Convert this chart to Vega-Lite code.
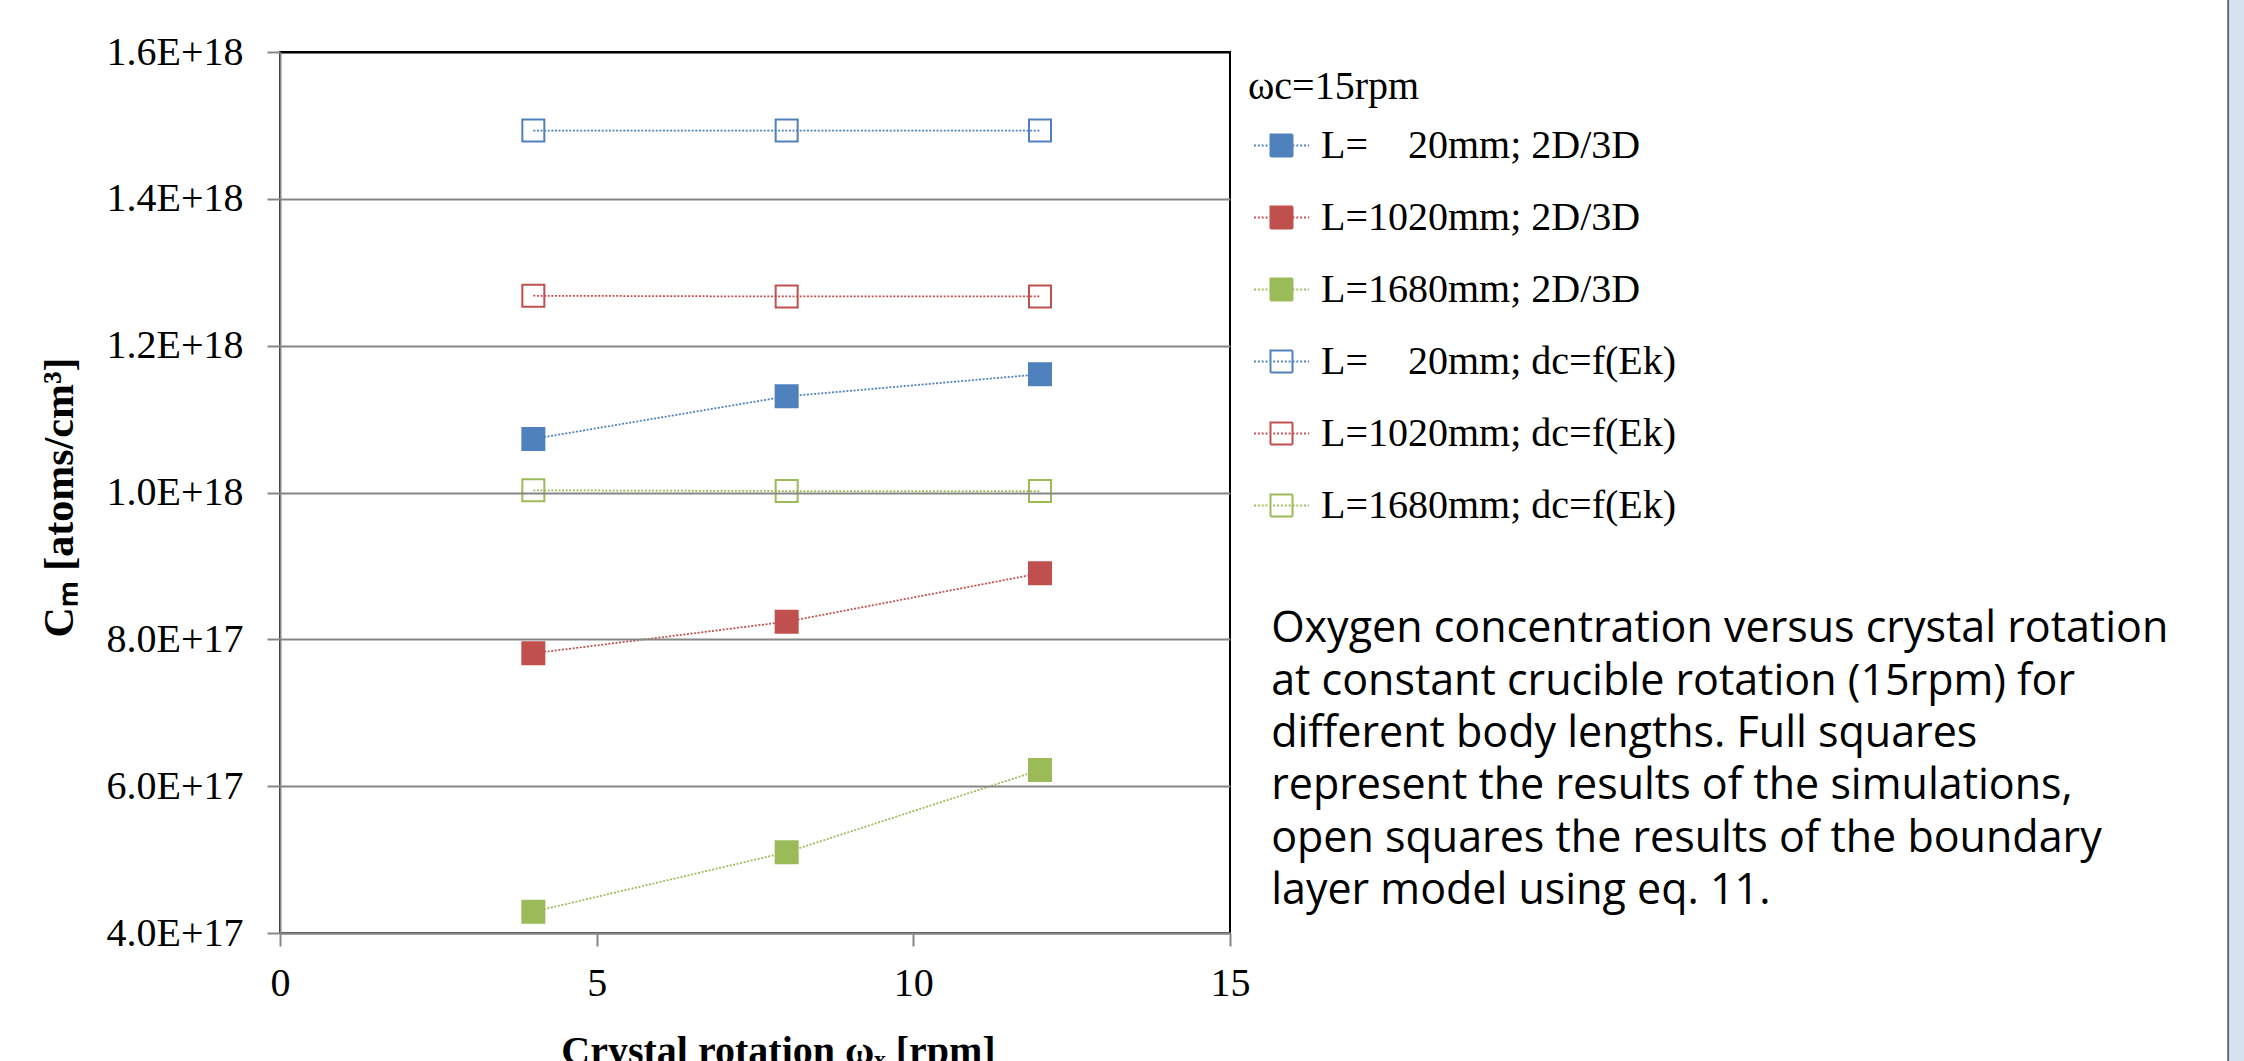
{
  "$schema": "https://vega.github.io/schema/vega-lite/v6.json",
  "width": 950,
  "height": 881,
  "autosize": {"type": "none"},
  "padding": {"left": 280, "top": 52, "right": 1014, "bottom": 128},
  "background": "white",
  "config": {
    "view": {"stroke": "black", "strokeWidth": 2}
  },
  "layer": [
    {
      "data": {"values": [{}]},
      "mark": {"type": "rect", "fill": "#D6E4F2", "stroke": "#5F6E80", "strokeWidth": 2},
      "encoding": {
        "x": {"datum": 30.76, "scale": {"domain": [0, 15], "nice": false}},
        "x2": {"datum": 32},
        "y": {"datum": 2.0e18, "scale": {"domain": [4e17, 1.6e18], "nice": false, "zero": false}},
        "y2": {"datum": 1e17}
      }
    },
    {
      "data": {"values": [
        {"series": "L=\u00a0\u00a0\u00a0\u00a020mm; 2D/3D", "omega": 4, "cm": 1.073e18},
        {"series": "L=\u00a0\u00a0\u00a0\u00a020mm; 2D/3D", "omega": 8, "cm": 1.131e18},
        {"series": "L=\u00a0\u00a0\u00a0\u00a020mm; 2D/3D", "omega": 12, "cm": 1.161e18},
        {"series": "L=1020mm; 2D/3D", "omega": 4, "cm": 7.81e17},
        {"series": "L=1020mm; 2D/3D", "omega": 8, "cm": 8.24e17},
        {"series": "L=1020mm; 2D/3D", "omega": 12, "cm": 8.90e17},
        {"series": "L=1680mm; 2D/3D", "omega": 4, "cm": 4.29e17},
        {"series": "L=1680mm; 2D/3D", "omega": 8, "cm": 5.10e17},
        {"series": "L=1680mm; 2D/3D", "omega": 12, "cm": 6.22e17},
        {"series": "L=\u00a0\u00a0\u00a0\u00a020mm; dc=f(Ek)", "omega": 4, "cm": 1.493e18},
        {"series": "L=\u00a0\u00a0\u00a0\u00a020mm; dc=f(Ek)", "omega": 8, "cm": 1.493e18},
        {"series": "L=\u00a0\u00a0\u00a0\u00a020mm; dc=f(Ek)", "omega": 12, "cm": 1.493e18},
        {"series": "L=1020mm; dc=f(Ek)", "omega": 4, "cm": 1.268e18},
        {"series": "L=1020mm; dc=f(Ek)", "omega": 8, "cm": 1.267e18},
        {"series": "L=1020mm; dc=f(Ek)", "omega": 12, "cm": 1.267e18},
        {"series": "L=1680mm; dc=f(Ek)", "omega": 4, "cm": 1.003e18},
        {"series": "L=1680mm; dc=f(Ek)", "omega": 8, "cm": 1.002e18},
        {"series": "L=1680mm; dc=f(Ek)", "omega": 12, "cm": 1.002e18}
      ]},
      "encoding": {
        "x": {
          "field": "omega", "type": "quantitative",
          "scale": {"domain": [0, 15], "nice": false},
          "axis": {
            "values": [0, 5, 10, 15], "format": "d",
            "zindex": 1,
            "labelFont": "Liberation Serif", "labelFontSize": 40, "labelColor": "black",
            "labelPadding": 17, "labelFlush": false, "labelOverlap": false,
            "tickSize": 13, "tickColor": "#868686", "tickWidth": 2,
            "domainColor": "#868686", "domainWidth": 2,
            "grid": false,
            "title": "Crystal rotation ωₓ [rpm]",
            "titleFont": "Liberation Serif", "titleFontSize": 40, "titleFontWeight": "bold", "titleColor": "black",
            "titleX": 498, "titleY": 130, "titleBaseline": "alphabetic", "titleAlign": "center"
          }
        },
        "y": {
          "field": "cm", "type": "quantitative",
          "scale": {"domain": [4e17, 1.6e18], "nice": false, "zero": false},
          "axis": {
            "values": [4e17, 6e17, 8e17, 1e18, 1.2e18, 1.4e18, 1.6e18],
            "labelExpr": "datum.value >= 9.9e17 ? format(datum.value / 1e18, '.1f') + 'E+18' : format(datum.value / 1e17, '.1f') + 'E+17'",
            "zindex": 1,
            "labelFont": "Liberation Serif", "labelFontSize": 40, "labelColor": "black",
            "labelPadding": 24, "labelFlush": false, "labelOverlap": false,
            "tickSize": 13, "tickColor": "#868686", "tickWidth": 2,
            "domainColor": "#868686", "domainWidth": 2,
            "grid": true, "gridWidth": 2,
            "gridColor": {"condition": {"test": "datum.value > 1.59e18", "value": "black"}, "value": "#868686"},
            "title": "Cₘ [atoms/cm³]",
            "titleFont": "Liberation Serif", "titleFontSize": 42, "titleFontWeight": "bold", "titleColor": "black",
            "titleX": -208, "titleY": 445, "titleBaseline": "alphabetic", "titleAlign": "center", "titleAngle": 270
          }
        },
        "stroke": {
          "field": "series", "type": "nominal",
          "scale": {
            "domain": ["L=\u00a0\u00a0\u00a0\u00a020mm; 2D/3D", "L=1020mm; 2D/3D", "L=1680mm; 2D/3D", "L=\u00a0\u00a0\u00a0\u00a020mm; dc=f(Ek)", "L=1020mm; dc=f(Ek)", "L=1680mm; dc=f(Ek)"],
            "range": ["#4F81BD", "#C0504D", "#9BBB59", "#4F81BD", "#C0504D", "#9BBB59"]
          },
          "legend": {
            "title": "ωc=15rpm",
            "orient": "none", "legendX": 968, "legendY": 15,
            "padding": 0,
            "titleFont": "Liberation Serif", "titleFontSize": 40, "titleFontWeight": "normal", "titleColor": "black",
            "titlePadding": 10,
            "labelFont": "Liberation Serif", "labelFontSize": 40, "labelColor": "black",
            "labelLimit": 600, "labelOffset": 11,
            "symbolType": "M-1,0H-0.93M-0.86,0H-0.79M-0.72,0H-0.65M-0.58,0H-0.51M-0.44,0H-0.37M-0.3,0H-0.23M-0.16,0H-0.09M-0.02,0H0.05M0.12,0H0.19M0.26,0H0.33M0.4,0H0.47M0.54,0H0.61M0.68,0H0.75M0.82,0H0.89M0.96,0H1M-0.4,-0.4H0.4V0.4H-0.4Z",
            "symbolSize": 3025, "symbolStrokeWidth": 2, "symbolOffset": 5,
            "symbolDash": [1, 0],
            "rowPadding": 23,
            "encode": {
              "symbols": {
                "update": {
                  "fill": {"scale": "fill", "field": "value"},
                  "stroke": {"scale": "stroke", "field": "value"},
                  "opacity": {"value": 1},
                  "strokeDash": {"value": [1, 0]}
                }
              }
            }
          }
        }
      },
      "layer": [
        {
          "mark": {"type": "line", "strokeWidth": 1.75, "strokeDash": [2, 1.6]}
        },
        {
          "mark": {"type": "point", "shape": "square", "size": 484, "filled": true, "strokeWidth": 2, "opacity": 1},
          "encoding": {
            "fill": {
              "field": "series", "type": "nominal",
              "scale": {
                "domain": ["L=\u00a0\u00a0\u00a0\u00a020mm; 2D/3D", "L=1020mm; 2D/3D", "L=1680mm; 2D/3D", "L=\u00a0\u00a0\u00a0\u00a020mm; dc=f(Ek)", "L=1020mm; dc=f(Ek)", "L=1680mm; dc=f(Ek)"],
                "range": ["#4F81BD", "#C0504D", "#9BBB59", "transparent", "transparent", "transparent"]
              },
              "legend": null
            }
          }
        }
      ]
    },
    {
      "data": {"values": [{}]},
      "mark": {
        "type": "text",
        "text": [
          "Oxygen concentration versus crystal rotation",
          "at constant crucible rotation (15rpm) for",
          "different body lengths. Full squares",
          "represent the results of the simulations,",
          "open squares the results of the boundary",
          "layer model using eq. 11."
        ],
        "font": "Open Sans", "fontSize": 43, "lineHeight": 52.4,
        "align": "left", "baseline": "alphabetic", "color": "black"
      },
      "encoding": {
        "x": {"datum": 15.65},
        "y": {"datum": 7.962e17}
      }
    }
  ]
}
